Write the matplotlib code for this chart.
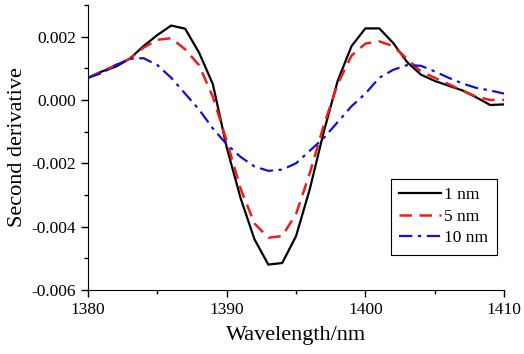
import numpy as np
import matplotlib
matplotlib.use("Agg")
import matplotlib.pyplot as plt
from matplotlib.ticker import MultipleLocator, FormatStrFormatter

plt.rcParams['font.family'] = ['Liberation Serif', 'DejaVu Serif']

wl = np.arange(1380, 1411)
d1 = [0.0007, 0.0009, 0.00105, 0.0013, 0.0017, 0.00205, 0.00235, 0.00225, 0.0015, 0.0005,
      -0.0015, -0.0031, -0.0044, -0.0052, -0.00515, -0.0043, -0.0028, -0.0010, 0.0006, 0.0017,
      0.00226, 0.00226, 0.0018, 0.0012, 0.0008, 0.0006, 0.00045, 0.0003, 0.00008, -0.00016, -0.00014]
d5 = [0.0007, 0.0009, 0.0011, 0.0013, 0.00165, 0.0019, 0.00195, 0.0016, 0.0011, 0.0001,
      -0.0013, -0.0028, -0.0039, -0.00435, -0.0043, -0.0036, -0.0023, -0.0008, 0.0005, 0.0014,
      0.00178, 0.00185, 0.0017, 0.0013, 0.0009, 0.0007, 0.0005, 0.0003, 0.0001, 0.0, 0.0]
d10 = [0.0007, 0.00085, 0.0011, 0.0013, 0.00132, 0.0011, 0.0007, 0.0002, -0.0003, -0.0009,
       -0.0014, -0.0018, -0.0021, -0.00224, -0.0022, -0.0020, -0.0016, -0.0012, -0.0007, -0.0002,
       0.0002, 0.0007, 0.00095, 0.0011, 0.00108, 0.0009, 0.0007, 0.00052, 0.00038, 0.0003, 0.0002]

fig = plt.figure(figsize=(5.24, 3.54), dpi=100)
ax = fig.add_axes([0.168, 0.181, 0.794, 0.805])

ax.plot(wl, d1, color='black', lw=1.6, label='1 nm')
ax.plot(wl, d5, color='#ee1c1c', lw=1.8, ls=(0, (5, 3)), label='5 nm')
ax.plot(wl, d10, color='#1010dd', lw=1.6, ls=(0, (6, 2.5, 1.5, 2.5)), label='10 nm')

ax.set_xlim(1380, 1410)
ax.set_ylim(-0.006, 0.003)
ax.xaxis.set_major_locator(MultipleLocator(10))
ax.xaxis.set_minor_locator(MultipleLocator(5))
ax.yaxis.set_major_locator(MultipleLocator(0.002))
ax.yaxis.set_minor_locator(MultipleLocator(0.001))
ax.yaxis.set_major_formatter(FormatStrFormatter('%.3f'))
ax.spines['top'].set_visible(False)
ax.spines['right'].set_visible(False)
ax.tick_params(which='major', length=5, width=1, labelsize=12.5)
ax.tick_params(which='minor', length=3, width=1)

ax.set_xlabel('Wavelength/nm', fontsize=16, labelpad=6)
ax.set_ylabel('Second derivative', fontsize=16, labelpad=3)

leg = ax.legend(loc='lower right', bbox_to_anchor=(0.983, 0.123), borderaxespad=0,
                fontsize=12.5, fancybox=False, edgecolor='black', framealpha=1,
                handlelength=2.4, handletextpad=0.2, labelspacing=0.3, borderpad=0.5)
leg.get_frame().set_linewidth(0.8)

fig.savefig('out.png', dpi=100)
